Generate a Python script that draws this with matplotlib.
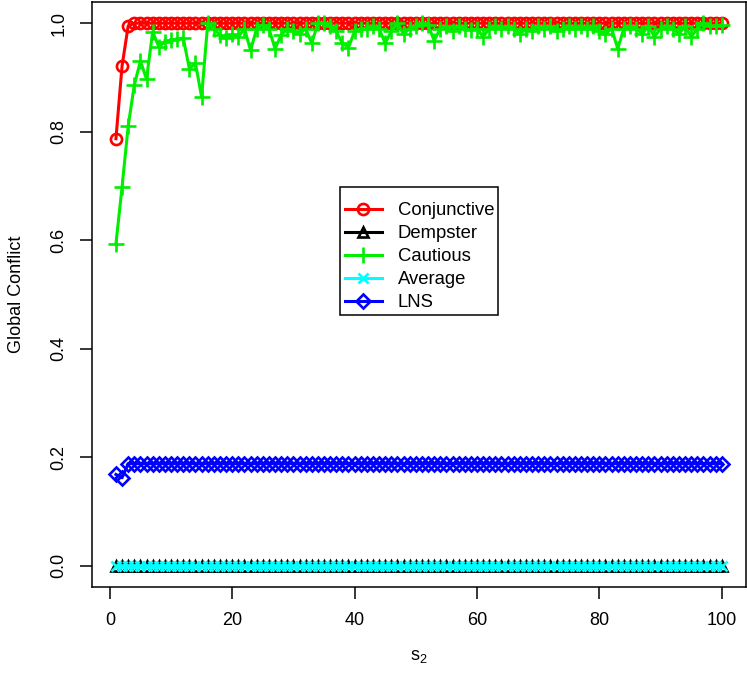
import matplotlib
matplotlib.use("Agg")
import matplotlib.pyplot as plt
from matplotlib.patches import Rectangle
import numpy as np

plt.rcParams['font.family'] = ['Liberation Sans', 'DejaVu Sans']
plt.rcParams['mathtext.fontset'] = 'custom'
plt.rcParams['mathtext.rm'] = 'Liberation Sans'
plt.rcParams['mathtext.it'] = 'Liberation Sans'
plt.rcParams['mathtext.default'] = 'regular'

s2 = list(range(1, 101))
conjunctive = [0.787, 0.921, 0.995] + [1.0] * 97
dempster = [0.0] * 100
cautious = [
    0.593, 0.698, 0.810, 0.886, 0.930, 0.897, 0.984, 0.957, 0.965, 0.969,
    0.970, 0.973, 0.916, 0.926, 0.864, 1.000, 0.990, 0.978, 0.972, 0.980,
    0.975, 0.990, 0.950, 0.990, 0.997, 0.990, 0.953, 0.978, 0.990, 0.985,
    0.980, 0.990, 0.963, 1.000, 1.000, 0.995, 0.985, 0.963, 0.955, 0.985,
    0.990, 0.990, 0.995, 0.990, 0.963, 0.985, 1.000, 0.980, 0.990, 0.995,
    1.000, 0.997, 0.968, 0.990, 0.995, 0.985, 0.995, 0.990, 0.987, 0.990,
    0.975, 0.990, 0.995, 0.990, 0.995, 0.990, 0.980, 0.990, 0.985, 0.995,
    0.990, 0.995, 0.985, 0.990, 0.995, 0.990, 0.995, 0.990, 0.995, 0.985,
    0.980, 0.990, 0.953, 0.990, 0.995, 0.990, 0.980, 0.995, 0.975, 0.990,
    0.995, 0.990, 0.980, 0.995, 0.975, 0.990, 1.000, 0.995, 0.995, 0.997,
]
average = [0.0] * 100
lns = [0.168, 0.162] + [0.188] * 98

labels = ["Conjunctive", "Dempster", "Cautious", "Average", "LNS"]
xticks = [0, 20, 40, 60, 80, 100]
yticks = [0.0, 0.2, 0.4, 0.6, 0.8, 1.0]

W, H = 747, 675
fig = plt.figure(figsize=(W / 100, H / 100), dpi=100)
L, R, T, B = 91.7, 746, 1.5, 587.3
ax = fig.add_axes([L / W, 1 - B / H, (R - L) / W, (B - T) / H])

lw = 2.2
mew = 1.9
ax.plot(s2, conjunctive, color='red', lw=lw, marker='o', ms=8, mfc='none', mew=mew, label=labels[0])
ax.plot(s2, dempster, color='black', lw=lw, marker='^', ms=7.5, mfc='none', mew=mew, label=labels[1])
ax.plot(s2, cautious, color='#00ee00', lw=lw, marker='+', ms=12, mew=mew, label=labels[2])
ax.plot(s2, average, color='cyan', lw=lw, marker='x', ms=7.5, mew=mew, label=labels[3])
ax.plot(s2, lns, color='blue', lw=lw, marker='D', ms=7.5, mfc='none', mew=mew, label=labels[4])

ax.set_xlim(-2.96, 103.96)
ax.set_ylim(-0.04, 1.04)
ax.set_xticks(xticks)
ax.set_xticklabels([str(v) for v in xticks])
ax.set_yticks(yticks)
ax.set_yticklabels([f"{v:.1f}" for v in yticks], rotation=90, va='center')
ax.tick_params(axis='both', direction='out', length=8.6, width=1.1, labelsize=13, pad=9)
for sp in ax.spines.values():
    sp.set_linewidth(1.1)

ax.set_xlabel(r'$s_2$', fontsize=13, labelpad=14)
ax.set_ylabel('Global Conflict', fontsize=13, labelpad=18)

# legend frame (R-style box with more vertical than horizontal padding)
box_l, box_t, box_r, box_b = 340, 186.7, 498.3, 315
ax.add_patch(Rectangle((box_l / W, 1 - box_b / H), (box_r - box_l) / W, (box_b - box_t) / H,
                       transform=fig.transFigure, facecolor='white', edgecolor='black',
                       linewidth=1.1, zorder=4.9, clip_on=False))

leg = ax.legend(loc='upper left', bbox_to_anchor=(345 / W, 1 - 202 / H),
                bbox_transform=fig.transFigure, borderaxespad=0, fontsize=13.3,
                frameon=False, handlelength=2.0, handletextpad=0.85, borderpad=0,
                labelspacing=0.33)
leg.set_zorder(5)

fig.savefig("out.png", dpi=100)
